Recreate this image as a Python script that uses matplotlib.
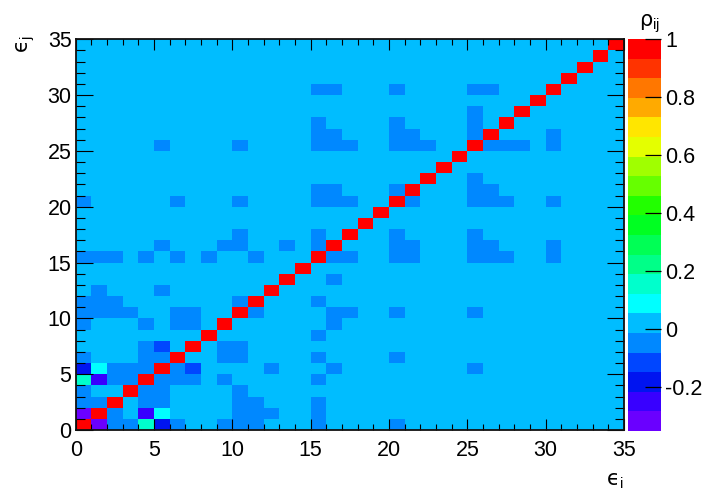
import numpy as np
import matplotlib
matplotlib.use("Agg")
import matplotlib.pyplot as plt
from matplotlib.colors import ListedColormap, BoundaryNorm
from matplotlib.ticker import MultipleLocator

plt.rcParams['font.family'] = ['Liberation Sans', 'DejaVu Sans']
plt.rcParams['mathtext.fontset'] = 'custom'
plt.rcParams['mathtext.rm'] = 'Liberation Sans'

# ---------------- data ----------------
n_params = 35
diag_value = 1.0
background_value = 0.01      # near-zero correlations
weak_neg_value = -0.04       # slightly negative correlations

# pairs (i, j), i < j, with slightly negative correlation
weak_neg_pairs = [
    (0, 2), (0, 3), (0, 6), (0, 9), (0, 10), (0, 11), (0, 15), (0, 20),
    (1, 2), (1, 10), (1, 11), (1, 12), (1, 15),
    (2, 4), (2, 5), (2, 10), (2, 11), (2, 15),
    (3, 4), (3, 5), (3, 10),
    (4, 5), (4, 6), (4, 7), (4, 9), (4, 15),
    (5, 6), (5, 12), (5, 16), (5, 25),
    (6, 9), (6, 10), (6, 15), (6, 20),
    (7, 9), (7, 10),
    (8, 15),
    (9, 16),
    (10, 11), (10, 16), (10, 17), (10, 20), (10, 25),
    (11, 15),
    (13, 16),
    (15, 16), (15, 17), (15, 20), (15, 21), (15, 25), (15, 26), (15, 27), (15, 30),
    (16, 20), (16, 21), (16, 25), (16, 26), (16, 30),
    (17, 20), (17, 25),
    (20, 21), (20, 25), (20, 26), (20, 27), (20, 30),
    (21, 25), (21, 26),
    (22, 25),
    (25, 26), (25, 27), (25, 28), (25, 30),
    (26, 30),
]

# pairs with stronger correlations
strong_pairs = [(0, 1), (0, 4), (0, 5), (1, 4), (1, 5), (5, 7)]
strong_values = [-0.33, 0.15, -0.18, -0.25, 0.09, -0.11]

# colour scale
z_min, z_max = -0.35, 1.0
n_contours = 20
palette = ['#6A00FF', '#3800FF', '#0014F0', '#0046FF', '#0088FF',
           '#00BDFF', '#00FFFF', '#00FFCC', '#00FF88', '#00FF55',
           '#00FF22', '#22FF00', '#66FF00', '#A0FF00', '#E4FF00',
           '#FFE600', '#FFAA00', '#FF7700', '#FF3300', '#FF0000']
cbar_ticks = [-0.2, 0, 0.2, 0.4, 0.6, 0.8, 1]
cbar_ticklabels = ['-0.2', '0', '0.2', '0.4', '0.6', '0.8', '1']

# ---------------- build matrix ----------------
rho = np.full((n_params, n_params), background_value)
for (i, j) in weak_neg_pairs:
    rho[i, j] = rho[j, i] = weak_neg_value
for (i, j), v in zip(strong_pairs, strong_values):
    rho[i, j] = rho[j, i] = v
np.fill_diagonal(rho, diag_value)

# ---------------- plot ----------------
W, H = 706, 492
fig = plt.figure(figsize=(W / 100, H / 100), dpi=100)

x0, x1 = 75.7, 624.0
y_top, y_bot = 39.2, 430.0
ax = fig.add_axes([x0 / W, (H - y_bot) / H, (x1 - x0) / W, (y_bot - y_top) / H])

levels = np.linspace(z_min, z_max, n_contours + 1)
cmap = ListedColormap(palette)
norm = BoundaryNorm(levels, cmap.N)

edges = np.arange(n_params + 1)
mesh = ax.pcolormesh(edges, edges, rho, cmap=cmap, norm=norm, shading='flat')
ax.set_xlim(0, n_params)
ax.set_ylim(0, n_params)

LBL = 15.5
ax.xaxis.set_major_locator(MultipleLocator(5))
ax.xaxis.set_minor_locator(MultipleLocator(1))
ax.yaxis.set_major_locator(MultipleLocator(5))
ax.yaxis.set_minor_locator(MultipleLocator(1))
ax.tick_params(axis='x', which='major', direction='in', length=8, width=0.8,
               top=True, bottom=True, labelsize=LBL, pad=7.5, colors='black')
ax.tick_params(axis='x', which='minor', direction='in', length=4.3, width=0.8,
               top=True, bottom=True)
ax.tick_params(axis='y', which='major', direction='in', length=12, width=0.8,
               left=True, right=True, labelsize=LBL, pad=3)
ax.tick_params(axis='y', which='minor', direction='in', length=6.5, width=0.8,
               left=True, right=True)
for s in ax.spines.values():
    s.set_linewidth(1.3)
    s.set_color('#111111')

# colorbar
cx0, cx1 = 627.7, 661.0
cy_top, cy_bot = 39.0, 431.0
cax = fig.add_axes([cx0 / W, (H - cy_bot) / H, (cx1 - cx0) / W, (cy_bot - cy_top) / H])
cb = fig.colorbar(mesh, cax=cax, ticks=cbar_ticks)
cb.outline.set_visible(False)
cax.set_ylim(z_min, z_max)
cax.tick_params(axis='y', which='major', direction='in', length=11.5, width=0.9,
                right=True, left=False, labelsize=LBL, pad=3, color='black')
cax.minorticks_off()
cb.set_ticklabels(cbar_ticklabels)

# titles
fig.text(623 / W, 1 - 485 / H, 'ϵ$_{\\mathrm{i}}$', ha='right', va='baseline', fontsize=15,
         family=['DejaVu Sans'])
fig.text(14 / W, 1 - 36 / H, 'ϵ$_{\\mathrm{j}}$', ha='left', va='top', rotation=90, fontsize=15,
         family=['DejaVu Sans'])
fig.text(650 / W, 1 - 26 / H, 'ρ$_{\\mathrm{ij}}$', ha='center', va='baseline', fontsize=15,
         family=['DejaVu Sans'])

fig.savefig('out.png', dpi=100)
